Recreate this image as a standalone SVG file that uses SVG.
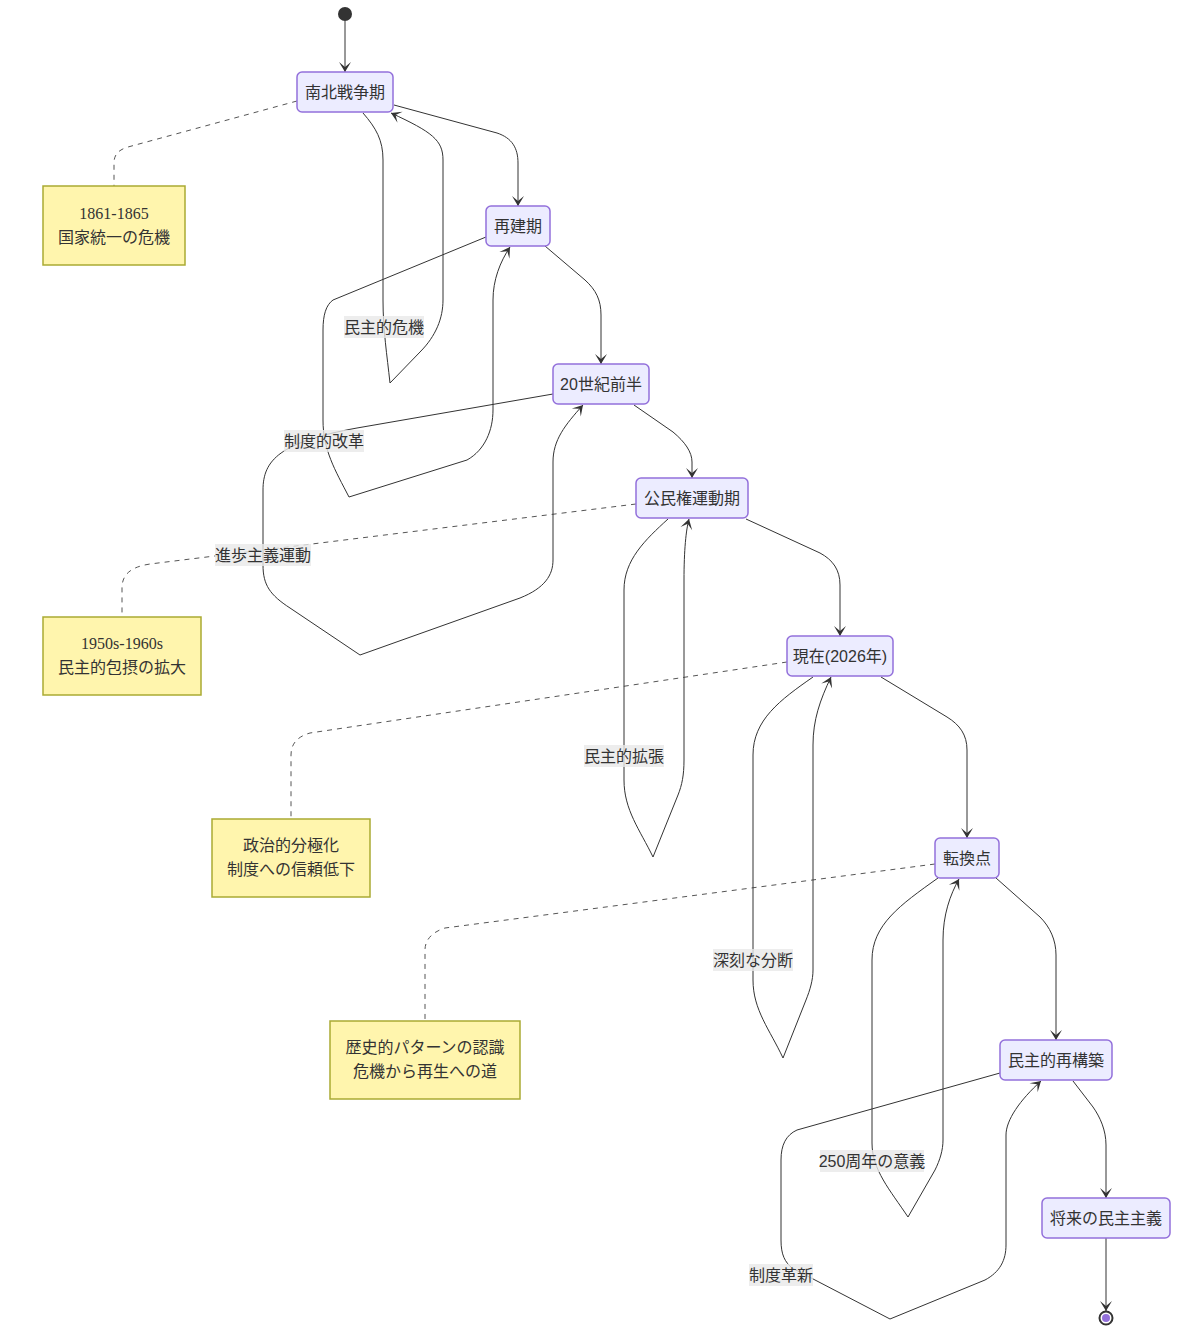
<svg xmlns="http://www.w3.org/2000/svg" width="1178" height="1334" viewBox="0 0 1178 1334">
<defs>
<marker id="barb" viewBox="0 0 20 14" refX="19" refY="7" markerWidth="20" markerHeight="14" markerUnits="userSpaceOnUse" orient="auto">
<path d="M19,7 L9,13 L14,7 L9,1 Z" fill="#333"/>
</marker>
<style>
.node rect{fill:#ECECFF;stroke:#9370DB;stroke-width:1.5}
.node text,.elabel text{font-family:"Liberation Sans","Noto Sans CJK JP",sans-serif;font-size:16px;fill:#333;text-anchor:middle;dominant-baseline:central}
.note rect{fill:#fff5ad;stroke:#aaaa33;stroke-width:1.5}
.note text{font-family:"Liberation Serif","Noto Sans CJK JP",serif;font-size:16px;fill:#333;text-anchor:middle;dominant-baseline:central}
.edge{fill:none;stroke:#333;stroke-width:1;marker-end:url(#barb)}
.loopline{fill:none;stroke:#333;stroke-width:1}
.notelink{fill:none;stroke:#555;stroke-width:1;stroke-dasharray:5 5}
.elabel rect{fill:#e8e8e8;fill-opacity:0.8}
</style>
</defs>
<rect width="1178" height="1334" fill="#ffffff"/>
<g id="connectors">
<path class="notelink" d="M297,101 L128,147 C118,150 114,155 114,163 L114,186"/>
<path class="notelink" d="M636,504 L150,564 C130,567 122,575 122,588 L122,617"/>
<path class="notelink" d="M787,662 L310,733 C296,737 291,745 291,755 L291,819"/>
<path class="notelink" d="M935,864 L445,928 C432,932 425,940 425,950 L425,1021"/>
<path class="edge" d="M345,21 L345,72"/>
<path class="edge" d="M394,105 L497,133 C512,138 518,148 518,163 L518,206"/>
<path class="edge" d="M545,246 L585,280 C596,290 601,300 601,315 L601,364"/>
<path class="edge" d="M634,405 L673,432 C685,442 692,452 692,462 L692,478"/>
<path class="edge" d="M746,519 L820,553 C833,560 840,570 840,585 L840,636"/>
<path class="edge" d="M881,677 L947,717 C960,725 967,735 967,750 L967,838"/>
<path class="edge" d="M996,878 L1040,917 C1050,927 1056,940 1056,955 L1056,1040"/>
<path class="edge" d="M1073,1081 L1093,1107 C1100,1117 1106,1130 1106,1145 L1106,1198"/>
<path class="edge" d="M1106,1238 L1106,1311"/>
<path class="edge" d="M363,113 C376,128 383,140 383,160 L383,300 C383,330 387,355 390,383 L420,352 C436,336 443,318 443,300 L443,160 C443,140 432,132 391,113"/>
<path class="edge" d="M486,237 L333,300 C326,305 323,315 323,330 L323,420 C323,450 335,470 349,497 L467,460 C485,450 493,430 493,410 L493,300 C493,280 500,262 510,247"/>
<path class="edge" d="M553,394 L357,428 C280,442 263,460 263,490 L263,565 C263,585 270,595 290,608 L360,655 L520,598 C545,588 553,575 553,560 L553,462 C553,440 565,425 583,405"/>
<path class="edge" d="M668,519 C645,540 624,560 624,590 L624,780 C624,810 640,830 653,857 L678,795 C682,785 684,775 684,760 L684,580 C684,550 686,530 689,519"/>
<path class="edge" d="M813,677 C780,700 753,720 753,755 L753,980 C753,1010 770,1030 783,1058 L806,1000 C810,990 813,980 813,970 L813,745 C813,720 820,700 831,677"/>
<path class="edge" d="M938,878 C900,905 872,925 872,960 L872,1143 C872,1170 890,1190 908,1217 L935,1170 C940,1160 943,1150 943,1140 L943,940 C943,915 950,895 959,879"/>
<path class="edge" d="M1000,1073 L797,1130 C786,1135 781,1145 781,1160 L781,1240 C781,1255 785,1262 792,1268 L890,1319 L985,1280 C1000,1272 1006,1260 1006,1245 L1006,1135 C1006,1120 1020,1100 1041,1081"/>
</g>
<g id="edge-labels">
<g class="elabel" id="label-minshu-kiki"><rect x="344" y="316" width="80" height="22"/><text x="384" y="327">民主的危機</text></g>
<g class="elabel" id="label-seido-kaikaku"><rect x="284" y="430" width="80" height="22"/><text x="324" y="441">制度的改革</text></g>
<g class="elabel" id="label-shinpo"><rect x="215" y="544" width="96" height="22"/><text x="263" y="555">進歩主義運動</text></g>
<g class="elabel" id="label-kakucho"><rect x="584" y="745" width="80" height="22"/><text x="624" y="756">民主的拡張</text></g>
<g class="elabel" id="label-bundan"><rect x="713" y="949" width="80" height="22"/><text x="753" y="960">深刻な分断</text></g>
<g class="elabel" id="label-250"><rect x="820" y="1150" width="104" height="22"/><text x="872" y="1161">250周年の意義</text></g>
<g class="elabel" id="label-kakushin"><rect x="749" y="1264" width="64" height="22"/><text x="781" y="1275">制度革新</text></g>
</g>
<g id="start"><circle cx="345" cy="14" r="7" fill="#333"/></g>
<g id="end"><circle cx="1106" cy="1318" r="6.5" fill="#fff" stroke="#333" stroke-width="2"/><circle cx="1106" cy="1318" r="4" fill="#9370DB"/></g>
<g id="node-nanboku" class="node"><rect x="297" y="72" width="96" height="40" rx="5"/><text x="345" y="92">南北戦争期</text></g>
<g id="node-saiken" class="node"><rect x="486" y="206" width="64" height="40" rx="5"/><text x="518" y="226">再建期</text></g>
<g id="node-20c" class="node"><rect x="553" y="364" width="96" height="40" rx="5"/><text x="601" y="384">20世紀前半</text></g>
<g id="node-kominken" class="node"><rect x="636" y="478" width="112" height="40" rx="5"/><text x="692" y="498">公民権運動期</text></g>
<g id="node-genzai" class="node"><rect x="787" y="636" width="106" height="40" rx="5"/><text x="840" y="656">現在(2026年)</text></g>
<g id="node-tenkan" class="node"><rect x="935" y="838" width="64" height="40" rx="5"/><text x="967" y="858">転換点</text></g>
<g id="node-saikochiku" class="node"><rect x="1000" y="1040" width="112" height="40" rx="5"/><text x="1056" y="1060">民主的再構築</text></g>
<g id="node-shorai" class="node"><rect x="1042" y="1198" width="128" height="40" rx="5"/><text x="1106" y="1218">将来の民主主義</text></g>
<g id="note-1" class="note"><rect x="43" y="186" width="142" height="79"/><text x="114" y="213">1861-1865</text><text x="114" y="237">国家統一の危機</text></g>
<g id="note-2" class="note"><rect x="43" y="617" width="158" height="78"/><text x="122" y="643">1950s-1960s</text><text x="122" y="667">民主的包摂の拡大</text></g>
<g id="note-3" class="note"><rect x="212" y="819" width="158" height="78"/><text x="291" y="845">政治的分極化</text><text x="291" y="869">制度への信頼低下</text></g>
<g id="note-4" class="note"><rect x="330" y="1021" width="190" height="78"/><text x="425" y="1047">歴史的パターンの認識</text><text x="425" y="1071">危機から再生への道</text></g>
</svg>
